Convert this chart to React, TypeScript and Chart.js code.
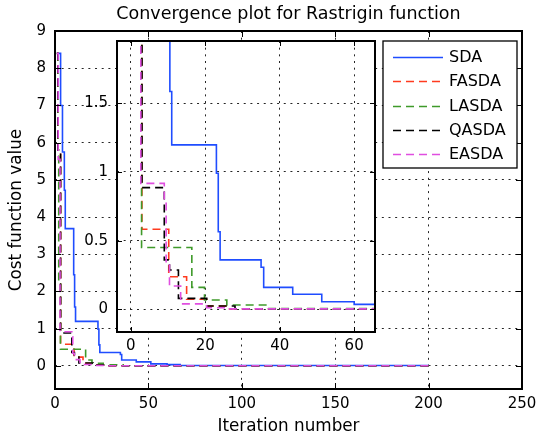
import React, { useEffect, useRef } from 'react';
import { Chart, registerables } from 'chart.js';

Chart.register(...registerables);

// ---------- data ----------
const TITLE = 'Convergence plot for Rastrigin function';
const X_LABEL = 'Iteration number';
const Y_LABEL = 'Cost function value';

const SERIES_NAMES = ['SDA', 'FASDA', 'LASDA', 'QASDA', 'EASDA'];
const SERIES_COLORS = ['#1f4dff', '#ff3b1f', '#3f9a2a', '#000000', '#e04ee0'];
const SERIES_DASH: number[][] = [[], [8, 5], [8, 5], [8, 5], [8, 5]];

const SDA_ITER = [1, 3, 4, 5, 5.5, 10, 10.5, 11, 23, 23.5, 24, 35, 35.7, 43.5, 51.3, 60, 67, 200];
const SDA_COST = [8.4, 7.0, 5.75, 4.72, 3.69, 2.45, 1.585, 1.197, 0.99, 0.565, 0.36, 0.306, 0.16, 0.11, 0.055, 0.036, 0.012, 0.012];

const FASDA_ITER = [1, 1.5, 3, 10.2, 15, 20.4, 26, 200];
const FASDA_COST = [8.4, 5.8, 0.583, 0.237, 0.073, 0.024, 0.003, 0.003];

const LASDA_ITER = [1, 1.5, 2, 2.9, 16.4, 19.8, 25.8, 36.5, 200];
const LASDA_COST = [8.4, 5.8, 2.2, 0.45, 0.16, 0.068, 0.031, 0.005, 0.005];

const QASDA_ITER = [1, 1.5, 3, 9, 10.4, 12.8, 20.4, 28, 200];
const QASDA_COST = [8.4, 5.8, 0.886, 0.36, 0.286, 0.08, 0.024, 0.004, 0.004];

const EASDA_ITER = [1, 1.7, 2.7, 9, 9.5, 10.4, 13.4, 20.4, 26, 200];
const EASDA_COST = [8.4, 5.55, 0.917, 0.78, 0.34, 0.17, 0.04, 0.012, 0.003, 0.003];

const MAIN_X_TICKS = [0, 50, 100, 150, 200, 250];
const MAIN_Y_TICKS = [0, 1, 2, 3, 4, 5, 6, 7, 8, 9];
const MAIN_X_RANGE = [0, 250];
const MAIN_Y_RANGE = [-0.62, 9];

const INSET_X_TICKS = [0, 20, 40, 60];
const INSET_Y_TICKS = [0, 0.5, 1, 1.5];
const INSET_X_RANGE = [-3.7, 65.6];
const INSET_Y_RANGE = [-0.165, 1.953];

// ---------- styling ----------
const FONT = 'DejaVu Sans';

function makeDatasets() {
  const iters = [SDA_ITER, FASDA_ITER, LASDA_ITER, QASDA_ITER, EASDA_ITER];
  const costs = [SDA_COST, FASDA_COST, LASDA_COST, QASDA_COST, EASDA_COST];
  return SERIES_NAMES.map((name, i) => ({
    label: name,
    data: iters[i].map((x, j) => ({ x, y: costs[i][j] })),
    borderColor: SERIES_COLORS[i],
    backgroundColor: SERIES_COLORS[i],
    borderWidth: 1.6,
    borderDash: SERIES_DASH[i],
    stepped: true as const,
    pointRadius: 0,
    fill: false,
    order: SERIES_NAMES.length - i,
  }));
}

const boxPlugin = {
  id: 'matBox',
  beforeDraw(chart: any, _a: any, opts: any) {
    if (opts.fill) {
      const { ctx, chartArea: a } = chart;
      ctx.save();
      ctx.fillStyle = opts.fill;
      ctx.fillRect(a.left, a.top, a.right - a.left, a.bottom - a.top);
      ctx.restore();
    }
  },
  afterDatasetsDraw(chart: any, _a: any, opts: any) {
    const { ctx, chartArea: a, scales } = chart;
    const L = opts.tickLen;
    ctx.save();
    ctx.strokeStyle = '#000';
    ctx.lineWidth = 1;
    ctx.setLineDash([]);
    ctx.beginPath();
    scales.x.ticks.forEach((t: any) => {
      const px = Math.round(scales.x.getPixelForValue(t.value)) + 0.5;
      ctx.moveTo(px, a.bottom);
      ctx.lineTo(px, a.bottom - L);
      ctx.moveTo(px, a.top);
      ctx.lineTo(px, a.top + L);
    });
    scales.y.ticks.forEach((t: any) => {
      const py = Math.round(scales.y.getPixelForValue(t.value)) + 0.5;
      ctx.moveTo(a.left, py);
      ctx.lineTo(a.left + L, py);
      ctx.moveTo(a.right, py);
      ctx.lineTo(a.right - L, py);
    });
    ctx.stroke();
    ctx.lineWidth = opts.borderWidth;
    ctx.strokeRect(a.left, a.top, a.right - a.left, a.bottom - a.top);
    ctx.restore();
  },
};

const legendPlugin = {
  id: 'boxLegend',
  afterDraw(chart: any, _a: any, opts: any) {
    const { ctx } = chart;
    const { x, y, w, h, firstRow, rowGap } = opts;
    ctx.save();
    ctx.fillStyle = '#fff';
    ctx.fillRect(x, y, w, h);
    ctx.strokeStyle = '#000';
    ctx.lineWidth = 1.3;
    ctx.setLineDash([]);
    ctx.strokeRect(x, y, w, h);
    chart.data.datasets.forEach((ds: any, i: number) => {
      const cy = Math.round(y + firstRow + i * rowGap) + 0.5;
      ctx.strokeStyle = ds.borderColor;
      ctx.lineWidth = 1.3;
      ctx.setLineDash(ds.borderDash || []);
      ctx.beginPath();
      ctx.moveTo(x + 10, cy);
      ctx.lineTo(x + 60, cy);
      ctx.stroke();
      ctx.setLineDash([]);
      ctx.fillStyle = '#000';
      ctx.font = `16px "${FONT}"`;
      ctx.textBaseline = 'middle';
      ctx.textAlign = 'left';
      ctx.fillText(ds.label, x + 66, cy);
    });
    ctx.restore();
  },
};

function axis(range: number[], ticks: number[], fixed: { width?: number; height?: number }, pad: number, extra: any = {}) {
  return {
    type: 'linear' as const,
    min: range[0],
    max: range[1],
    afterBuildTicks: (s: any) => {
      s.ticks = ticks.map((v) => ({ value: v }));
    },
    afterFit: (s: any) => {
      if (fixed.width !== undefined) s.width = fixed.width;
      if (fixed.height !== undefined) s.height = fixed.height;
      s.paddingTop = 0;
      s.paddingBottom = 0;
      s.paddingLeft = 0;
      s.paddingRight = 0;
    },
    ticks: {
      padding: pad,
      color: '#000',
      font: { family: FONT, size: 15 },
      callback: (v: any) => String(v),
      maxRotation: 0,
      autoSkip: false,
    },
    grid: { color: 'rgba(0,0,0,0.85)', lineWidth: 1, drawTicks: false },
    border: { display: false, dash: [2, 4.67] },
    ...extra,
  };
}

export default function App() {
  const mainRef = useRef<HTMLCanvasElement | null>(null);
  const insetRef = useRef<HTMLCanvasElement | null>(null);

  useEffect(() => {
    if (!mainRef.current || !insetRef.current) return;
    const main = new Chart(mainRef.current, {
      type: 'line',
      data: { datasets: makeDatasets() as any },
      plugins: [boxPlugin, legendPlugin] as any,
      options: {
        animation: false,
        responsive: false,
        events: [],
        layout: { padding: { left: 0, right: 16, top: 0, bottom: 0 } },
        scales: {
          x: axis(MAIN_X_RANGE, MAIN_X_TICKS, { height: 56 }, 6, {
            title: {
              display: true,
              text: X_LABEL,
              color: '#000',
              font: { family: FONT, size: 16.8 },
              padding: { top: 0, bottom: 8 },
            },
          }),
          y: axis(MAIN_Y_RANGE, MAIN_Y_TICKS, { width: 55 }, 9, {
            title: {
              display: true,
              text: Y_LABEL,
              color: '#000',
              font: { family: FONT, size: 16.8 },
              padding: { top: 7, bottom: 0 },
            },
          }),
        },
        plugins: {
          legend: { display: false },
          tooltip: { enabled: false },
          title: {
            display: true,
            text: TITLE,
            fullSize: false,
            color: '#000',
            font: { family: FONT, size: 17.5, weight: 'normal' },
            padding: { top: 4, bottom: 6 },
          },
          matBox: { tickLen: 6, borderWidth: 2 },
          boxLegend: { x: 383, y: 41, w: 134, h: 127, firstRow: 16, rowGap: 24.25 },
        } as any,
      },
    });

    const inset = new Chart(insetRef.current, {
      type: 'line',
      data: { datasets: makeDatasets() as any },
      plugins: [boxPlugin] as any,
      options: {
        animation: false,
        responsive: false,
        events: [],
        layout: { padding: { left: 0, right: 5, top: 11, bottom: 0 } },
        scales: {
          x: axis(INSET_X_RANGE, INSET_X_TICKS, { height: 29 }, 5),
          y: axis(INSET_Y_RANGE, INSET_Y_TICKS, { width: 57 }, 9),
        },
        plugins: {
          legend: { display: false },
          tooltip: { enabled: false },
          title: { display: false },
          matBox: { tickLen: 5, borderWidth: 2, fill: '#ffffff' },
        } as any,
      },
    });

    return () => {
      main.destroy();
      inset.destroy();
    };
  }, []);

  return (
    <div style={{ position: 'absolute', left: 0, top: 0, width: 538, height: 445, background: '#fff' }}>
      <canvas
        ref={mainRef}
        width={538}
        height={445}
        style={{ position: 'absolute', left: 0, top: 0, width: 538, height: 445 }}
      />
      <canvas
        ref={insetRef}
        width={320}
        height={331}
        style={{ position: 'absolute', left: 60, top: 30, width: 320, height: 331 }}
      />
    </div>
  );
}
